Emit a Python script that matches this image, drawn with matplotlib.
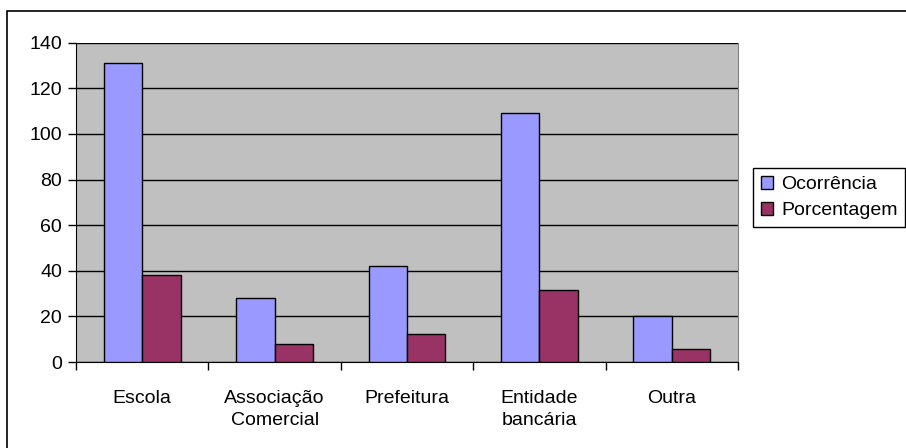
import matplotlib.pyplot as plt
import numpy as np
from matplotlib.patches import Rectangle

plt.rcParams['font.family'] = ['Liberation Sans', 'DejaVu Sans']

# Data
categories = ['Escola', 'Associação\nComercial', 'Prefeitura', 'Entidade\nbancária', 'Outra']
ocorrencia = [131, 28, 42, 109, 20]
porcentagem = [38, 8.1, 12.2, 31.6, 5.8]

fig = plt.figure(figsize=(9.06, 4.48), dpi=100)
ax = fig.add_axes([76 / 906, 86 / 448, 662 / 906, 319.3 / 448])
ax.set_facecolor('#C0C0C0')

# outer chart border (cropped on right and bottom in the original)
fig.patches.append(Rectangle((7 / 906, -0.05), 1.0, 1.05 - 11 / 448,
                             transform=fig.transFigure, fill=False,
                             edgecolor='black', linewidth=1.2))

x = np.arange(len(categories))
w = 0.29
ax.bar(x - w / 2, ocorrencia, w, color='#9999FF', edgecolor='black',
       linewidth=1, label='Ocorrência', zorder=3)
ax.bar(x + w / 2, porcentagem, w, color='#993366', edgecolor='black',
       linewidth=1, label='Porcentagem', zorder=3)

ax.set_xlim(-0.5, len(categories) - 0.5)
ax.set_ylim(0, 140)
ax.set_yticks(range(0, 141, 20))
ax.yaxis.grid(True, color='black', linewidth=1, zorder=1)
ax.set_axisbelow(True)

ax.set_xticks(x)
ax.set_xticklabels(categories, fontsize=14, linespacing=1.4)
ax.set_xticks(np.arange(-0.5, len(categories), 1), minor=True)
ax.tick_params(axis='x', which='major', length=0, pad=20)
ax.tick_params(axis='x', which='minor', length=6, width=1, color='black')
ax.tick_params(axis='y', length=6, width=1, labelsize=14, pad=4)

ax.spines['top'].set_visible(False)
ax.spines['right'].set_color('#808080')
ax.spines['left'].set_color('black')
ax.spines['bottom'].set_color('black')

leg = ax.legend(loc='upper left', bbox_to_anchor=(753 / 906, (448 - 168) / 448),
                bbox_transform=fig.transFigure, fontsize=14, frameon=True,
                fancybox=False, framealpha=1, edgecolor='black',
                handlelength=0.65, handleheight=0.65, handletextpad=0.4,
                borderpad=0.4, labelspacing=0.45, borderaxespad=0)
leg.get_frame().set_linewidth(1)

fig.savefig('out.png', dpi=100)
